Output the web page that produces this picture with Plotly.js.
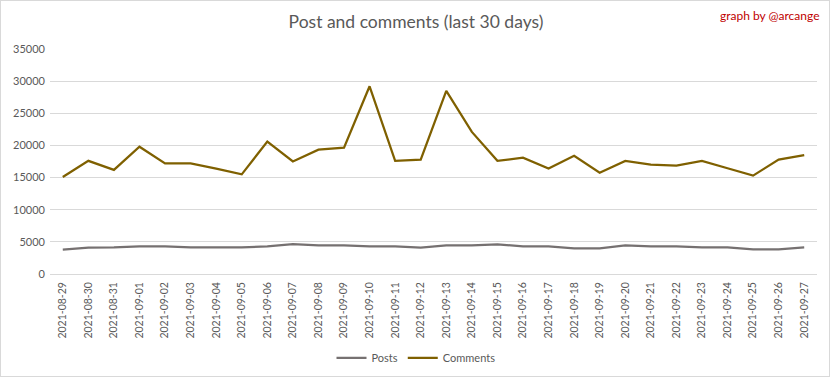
<!DOCTYPE html>
<html>
<head>
<meta charset="utf-8">
<script src="https://cdn.plot.ly/plotly-3.0.1.min.js"></script>
<style>
html,body{margin:0;padding:0;background:#fff;}
#wrap{position:relative;width:832px;height:378px;}
#chart{width:832px;height:378px;}
#frame{position:absolute;left:0;top:0;width:828px;height:375px;border:1px solid #d9d9d9;pointer-events:none;}
</style>
</head>
<body>
<div id="wrap"><div id="chart"></div><div id="frame"></div></div>
<script>
const dates = ["2021-08-29","2021-08-30","2021-08-31","2021-09-01","2021-09-02","2021-09-03","2021-09-04","2021-09-05","2021-09-06","2021-09-07","2021-09-08","2021-09-09","2021-09-10","2021-09-11","2021-09-12","2021-09-13","2021-09-14","2021-09-15","2021-09-16","2021-09-17","2021-09-18","2021-09-19","2021-09-20","2021-09-21","2021-09-22","2021-09-23","2021-09-24","2021-09-25","2021-09-26","2021-09-27"];
const posts = [3800,4100,4150,4300,4300,4150,4150,4150,4300,4650,4450,4450,4300,4300,4100,4450,4450,4600,4300,4300,4000,4000,4450,4300,4300,4150,4150,3850,3850,4150];
const comments = [15100,17600,16200,19800,17200,17200,16400,15500,20600,17500,19350,19650,29200,17600,17800,28500,22100,17600,18100,16400,18400,15750,17600,17000,16850,17600,16450,15300,17800,18500];

const font = "Lato, 'Open Sans', sans-serif";
const traces = [
  {x: dates, y: posts, type: 'scatter', mode: 'lines', name: 'Posts',
   line: {color: '#767171', width: 2.25}},
  {x: dates, y: comments, type: 'scatter', mode: 'lines', name: 'Comments',
   line: {color: '#7f6000', width: 2.25}}
];
const layout = {
  width: 832, height: 378,
  margin: {l: 50, r: 15, t: 49, b: 104},
  paper_bgcolor: '#fff', plot_bgcolor: '#fff',
  font: {family: font, color: '#595959', size: 11},
  title: {text: 'Post and comments (last 30 days)', x: 0.5, xanchor: 'center', y: 0.942, yanchor: 'middle', yref: 'container',
          font: {family: font, size: 17.5, color: '#595959'}},
  xaxis: {type: 'category', range: [-0.5, 29.5], tickangle: -90, showgrid: false, zeroline: false,
          showline: false, ticks: '', automargin: false, ticklabelstandoff: 5,
          tickfont: {size: 10.5, color: '#595959'}, fixedrange: true},
  yaxis: {range: [0, 35000], dtick: 5000, tick0: 0, showgrid: true, gridcolor: '#d9d9d9', gridwidth: 1,
          zeroline: true, zerolinecolor: '#d9d9d9', zerolinewidth: 1, showline: false, ticks: '',
          automargin: false, ticklabelstandoff: 4,
          tickformat: 'd', tickfont: {size: 11, color: '#595959'}, fixedrange: true},
  showlegend: true,
  legend: {orientation: 'h', x: 0.5, xanchor: 'center', xref: 'container', y: 0.053, yanchor: 'middle', yref: 'container',
           font: {size: 11, color: '#595959'}, itemwidth: 30, tracegroupgap: 0},
  annotations: [{text: 'graph by @arcange', xref: 'paper', yref: 'paper', x: 1.007, y: 1.147,
                 xanchor: 'right', yanchor: 'middle', showarrow: false,
                 font: {family: font, size: 12, color: '#c00000'}}]
};
Plotly.newPlot('chart', traces, layout, {displayModeBar: false, staticPlot: true});
</script>
</body>
</html>
